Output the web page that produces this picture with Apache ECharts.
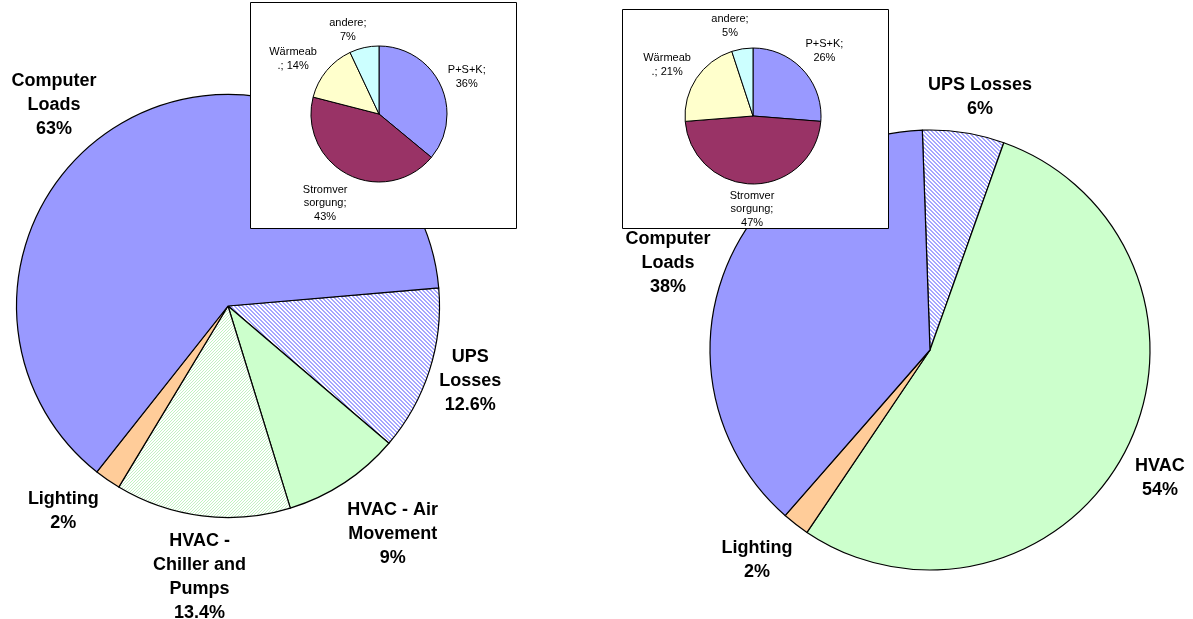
<!DOCTYPE html>
<html>
<head>
<meta charset="utf-8">
<script src="https://cdn.jsdelivr.net/npm/echarts@6/dist/echarts.min.js"></script>
<style>
  html, body { margin: 0; padding: 0; background: #fff; }
  #chart { width: 1193px; height: 619px; }
</style>
</head>
<body>
<div id="chart"></div>
<script>
// Data-centre energy split: current state (left) and best practice (right)
const leftNames  = ['UPS\nLosses', 'HVAC - Air\nMovement', 'HVAC -\nChiller and\nPumps', 'Lighting', 'Computer\nLoads'];
const leftValues = [12.6, 9, 13.4, 2, 63];

const rightNames  = ['UPS Losses', 'HVAC', 'Lighting', 'Computer\nLoads'];
const rightValues = [6, 54, 2, 38];

// Small inset pies (German breakdown)
const insetNames       = ['P+S+K', 'Stromver\nsorgung', 'Wärmeab\n.', 'andere'];
const insetLeftValues  = [36, 43, 14, 7];
const insetRightValues = [26, 47, 21, 5];

// ---- styling ----
const FONT = '"Liberation Sans", Arial, Helvetica, sans-serif';

function hatch(lineColor, size, width, dir) {
  const c = document.createElement('canvas');
  c.width = size; c.height = size;
  const g = c.getContext('2d');
  g.fillStyle = '#ffffff';
  g.fillRect(0, 0, size, size);
  g.fillStyle = lineColor;
  for (let y = 0; y < size; y++) {
    for (let x = 0; x < size; x++) {
      const k = dir > 0 ? (x + y) % size : (x - y + size) % size;
      if (k < width) g.fillRect(x, y, 1, 1);
    }
  }
  return { image: c, repeat: 'repeat' };
}

const upsHatch = hatch('#a6a6ff', 4, 2, -1);
const chillerHatch = hatch('#c2f2c2', 3, 1, 1);

const leftColors  = [upsHatch, '#ccffcc', chillerHatch, '#ffcc99', '#9999ff'];
const rightColors = [upsHatch, '#ccffcc', '#ffcc99', '#9999ff'];
const insetColors = ['#9999ff', '#993366', '#ffffcc', '#ccffff'];

// label placement relative to each slice: [distance factor of radius, angle shift in degrees]
const leftPlace  = [[1.20, -0.5], [1.33, -2.5], [1.29, -1], [1.245, 4], [1.257, -12.6]];
const rightPlace = [[1.17, 2.4], [1.196, 2.3], [1.236, 1.9], [1.255, -1.2]];
const insetLeftPlace  = [[1.40, 2.4], [1.53, 4.2], [1.50, -7], [1.32, -7.7]];
const insetRightPlace = [[1.42, 0.4], [1.37, 0.6], [1.47, -2.9], [1.37, -5.2]];

const LEFT_C = [228, 306], LEFT_R = 211.5;
const RIGHT_C = [930, 350], RIGHT_R = 220;
const INSET_L_C = [379, 114], INSET_R_C = [753, 116], INSET_R = 68;

function placer(center, place) {
  return function (p) {
    const pts = p.labelLinePoints;
    if (!pts) return {};
    const pl = place[p.dataIndex];
    const vx = pts[0][0] - center[0], vy = pts[0][1] - center[1];
    const a = Math.atan2(vy, vx) + pl[1] * Math.PI / 180;
    const d = Math.hypot(vx, vy) * pl[0];
    return {
      x: center[0] + d * Math.cos(a),
      y: center[1] + d * Math.sin(a),
      align: 'center',
      verticalAlign: 'middle'
    };
  };
}

function toData(names, values, colors) {
  return names.map((n, i) => ({ name: n, value: values[i], itemStyle: { color: colors[i] } }));
}

function mainPie(names, values, colors, center, radius, start, place) {
  return {
    type: 'pie',
    center: center,
    radius: radius,
    startAngle: start,
    clockwise: true,
    avoidLabelOverlap: false,
    z: 2,
    itemStyle: { borderColor: '#000', borderWidth: 1.2 },
    emphasis: { disabled: true },
    label: {
      show: true,
      position: 'outside',
      formatter: '{b}\n{c}%',
      fontFamily: FONT,
      fontWeight: 'bold',
      fontSize: 18,
      lineHeight: 24,
      color: '#000',
      distanceToLabelLine: 0
    },
    labelLine: { show: true, length: 10, length2: 0, lineStyle: { opacity: 0 } },
    labelLayout: placer(center, place),
    data: toData(names, values, colors)
  };
}

function insetPie(values, center, place) {
  return {
    type: 'pie',
    center: center,
    radius: INSET_R,
    startAngle: 90,
    clockwise: true,
    avoidLabelOverlap: false,
    z: 20,
    itemStyle: { borderColor: '#000', borderWidth: 1 },
    emphasis: { disabled: true },
    label: {
      show: true,
      position: 'outside',
      formatter: function (p) {
        const lines = p.name.split('\n');
        const sep = lines[lines.length - 1].length < 3 ? ' ' : '\n';
        return p.name + ';' + sep + p.value + '%';
      },
      fontFamily: FONT,
      fontSize: 11,
      lineHeight: 13.5,
      color: '#000',
      distanceToLabelLine: 0
    },
    labelLine: { show: true, length: 5, length2: 0, lineStyle: { opacity: 0 } },
    labelLayout: placer(center, place),
    data: toData(insetNames, values, insetColors)
  };
}

const chart = echarts.init(document.getElementById('chart'), null, { renderer: 'canvas' });
chart.setOption({
  animation: false,
  backgroundColor: '#ffffff',
  graphic: [
    { type: 'rect', z: 10, shape: { x: 250.5, y: 2.5, width: 266, height: 226 },
      style: { fill: '#ffffff', stroke: '#000', lineWidth: 1 } },
    { type: 'rect', z: 10, shape: { x: 622.5, y: 9.5, width: 266, height: 219 },
      style: { fill: '#ffffff', stroke: '#000', lineWidth: 1 } }
  ],
  series: [
    mainPie(leftNames, leftValues, leftColors, LEFT_C, LEFT_R, 4.9, leftPlace),
    mainPie(rightNames, rightValues, rightColors, RIGHT_C, RIGHT_R, 92, rightPlace),
    insetPie(insetLeftValues, INSET_L_C, insetLeftPlace),
    insetPie(insetRightValues, INSET_R_C, insetRightPlace)
  ]
});
</script>
</body>
</html>
